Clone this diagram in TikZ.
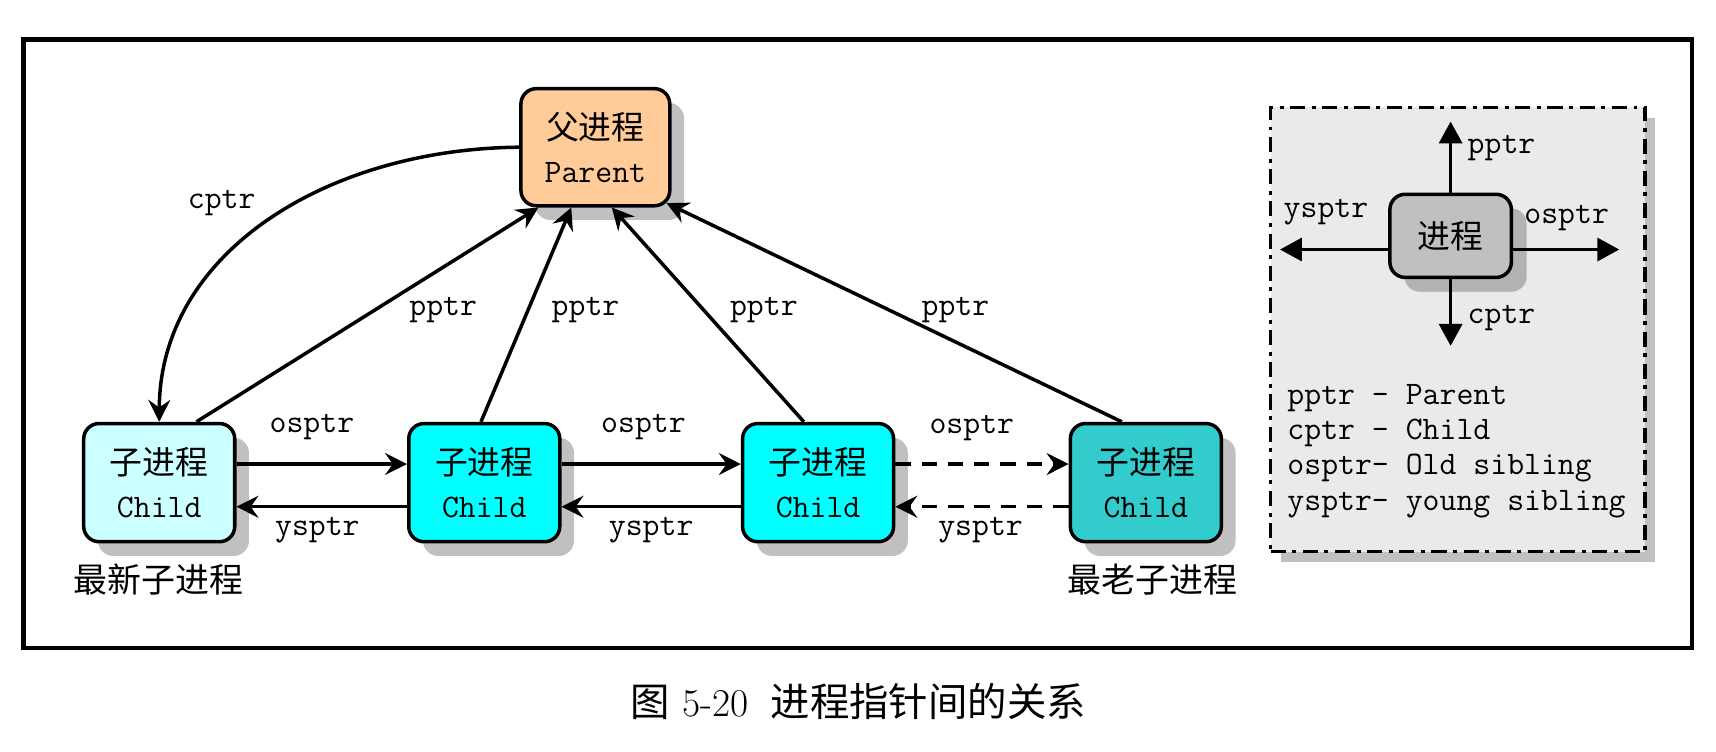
\documentclass[tikz,border=0pt]{standalone}
\usepackage{fontspec}
\newfontfamily\cjk{Noto Sans CJK SC}
\usetikzlibrary{arrows.meta,shadows,calc}
\definecolor{peach}{HTML}{FFCC99}
\definecolor{lcyan}{HTML}{CCFFFF}
\definecolor{aqua}{HTML}{00FFFF}
\definecolor{tealbox}{HTML}{33CCCC}
\definecolor{shadowgray}{HTML}{C0C0C0}
\definecolor{legendfill}{HTML}{EAEAEA}
\definecolor{procfill}{HTML}{C0C0C0}
\definecolor{procshadow}{HTML}{B2B2B2}
\begin{document}
\begin{tikzpicture}[x=0.5pt,y=-0.5pt,
  procbox/.style={draw, line width=1.6pt, rounded corners=7pt, align=center, inner sep=0pt,
    font=\fontsize{15}{19.5}\selectfont,
    drop shadow={shadow xshift=6.5pt, shadow yshift=-6.5pt, fill=shadowgray, opacity=1}},
  childbox/.style={procbox, minimum width=69pt, minimum height=54pt},
  lbl/.style={font=\fontsize{15}{18}\selectfont\ttfamily, inner sep=0pt},
  cjklbl/.style={font=\fontsize{15.5}{18}\selectfont\cjk, inner sep=0pt},
  ptr/.style={line width=1.6pt, -{Stealth[length=10pt,width=10pt,inset=3.5pt]}},
  dptr/.style={ptr, dash pattern=on 7pt off 5pt},
  legarrow/.style={line width=1.5pt, -{Triangle[length=10pt,width=10.5pt]}},
  legtext/.style={font=\fontsize{15}{16}\selectfont\ttfamily, inner sep=0pt, anchor=base west}
]
\useasboundingbox (0,0) rectangle (1568,687);
\draw[line width=2.15pt] (21.3,35.8) rectangle (1546,592);

% nodes
\node[childbox, fill=peach, minimum width=68pt, minimum height=53.5pt] (p) at (544,134.5) {{\cjk 父进程}\\{\ttfamily Parent}};
\node[childbox, fill=lcyan] (c1) at (145.5,441) {{\cjk 子进程}\\{\ttfamily Child}};
\node[childbox, fill=aqua] (c2) at (442.5,441) {{\cjk 子进程}\\{\ttfamily Child}};
\node[childbox, fill=aqua] (c3) at (747.5,441) {{\cjk 子进程}\\{\ttfamily Child}};
\node[childbox, fill=tealbox] (c4) at (1047,441) {{\cjk 子进程}\\{\ttfamily Child}};

\node[cjklbl] (newest) at (145,530) {最新子进程};
\node[cjklbl] (oldest) at (1053,530) {最老子进程};

% cptr
\draw[ptr] (p.west) .. controls (300,136) and (146,230) .. (c1.north);
\node[lbl] (lcptr) at (202.6,185.8) {cptr};

% pptr
\draw[ptr] ($(c1.north)+(34,0)$) -- ($(p.south)+(-52,0)$);
\draw[ptr] ($(c2.north)+(-3,0)$) -- ($(p.south)+(-22,0)$);
\draw[ptr] ($(c3.north)+(-13,0)$) -- ($(p.south)+(15,0)$);
\draw[ptr] ($(c4.north)+(-22,0)$) -- ($(p.south)+(65,-4)$);
\node[lbl] (lp1) at (405,283) {pptr};
\node[lbl] (lp2) at (535,283) {pptr};
\node[lbl] (lp3) at (698,283) {pptr};
\node[lbl] (lp4) at (873,283) {pptr};

% sibling pointers
\draw[ptr] ($(c1.east)+(0,-17)$) -- ($(c2.west)+(0,-17)$);
\draw[ptr] ($(c2.west)+(0,22)$) -- ($(c1.east)+(0,22)$);
\draw[ptr] ($(c2.east)+(0,-17)$) -- ($(c3.west)+(0,-17)$);
\draw[ptr] ($(c3.west)+(0,22)$) -- ($(c2.east)+(0,22)$);
\draw[dptr] ($(c3.east)+(0,-17)$) -- ($(c4.west)+(0,-17)$);
\draw[dptr] ($(c4.west)+(0,22)$) -- ($(c3.east)+(0,22)$);
\node[lbl] (lo1) at (285,390) {osptr};
\node[lbl] (lo2) at (588,390) {osptr};
\node[lbl] (lo3) at (888,391) {osptr};
\node[lbl] (ly1) at (290,484) {ysptr};
\node[lbl] (ly2) at (595,484) {ysptr};
\node[lbl] (ly3) at (896,484) {ysptr};

% legend
\node[draw, line width=1.5pt, fill=legendfill, minimum width=171pt, minimum height=203pt,
  dash pattern=on 6.9pt off 3pt on 1.8pt off 3pt, inner sep=0pt,
  drop shadow={shadow xshift=4.75pt, shadow yshift=-4.75pt, fill=shadowgray, opacity=1}]
  (legend) at (1332,301) {};
\node[procbox, fill=procfill, minimum width=55.5pt, minimum height=38pt,
  drop shadow={shadow xshift=7pt, shadow yshift=-6.5pt, fill=procshadow, opacity=1}]
  (proc) at (1325.5,215.5) {\cjk 进程};
\coordinate (lu) at (1325.5,111);
\coordinate (ld) at (1325.5,316);
\coordinate (ll) at (1169.6,228);
\coordinate (lr) at (1479.6,228);
\draw[legarrow] (proc.north) -- (lu);
\draw[legarrow] (proc.south) -- (ld);
\draw[legarrow] (proc.west |- ll) -- (ll);
\draw[legarrow] (proc.east |- lr) -- (lr);
\node[lbl] (llp) at (1372,135.5) {pptr};
\node[lbl] (llc) at (1372,291) {cptr};
\node[lbl] (lly) at (1211.6,193.4) {ysptr};
\node[lbl] (llo) at (1431.5,199.5) {osptr};
\node[legtext] (t1) at (1176,369.8) {pptr - Parent};
\node[legtext] (t2) at (1176,401.9) {cptr - Child};
\node[legtext] (t3) at (1176,434) {osptr- Old sibling};
\node[legtext] (t4) at (1176,466.1) {ysptr- young sibling};

% caption
\node[inner sep=0pt, font=\fontsize{18}{20}\selectfont] (cap) at (784,641)
  {{\cjk 图}\hspace{6pt}{\rmfamily 5-20}\hspace{10pt}{\cjk 进程指针间的关系}};
\end{tikzpicture}
\end{document}
